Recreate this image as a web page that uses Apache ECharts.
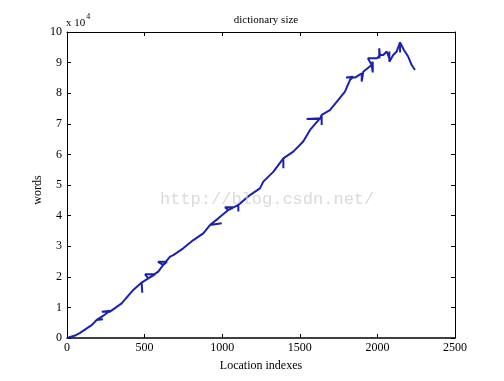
<!DOCTYPE html>
<html>
<head>
<meta charset="utf-8">
<script src="https://cdn.jsdelivr.net/npm/echarts@6/dist/echarts.min.js"></script>
<style>html,body{margin:0;padding:0;background:#fff}#c{width:504px;height:381px}</style>
</head>
<body>
<div id="c"></div>
<script>
// Location index values (x) and dictionary size in units of 10^4 words (y)
const locIdx = [0,52,84,159,191,180,232,191,232,277,224,277,277,352,427,481,485,481,524,503,567,524,588,620,586,644,620,664,685,749,814,878,921,932,997,921,975,1039,1018,1070,1039,1104,1104,1104,1179,1243,1265,1329,1394,1394,1394,1458,1522,1566,1630,1544,1630,1641,1641,1641,1694,1748,1791,1823,1845,1798,1856,1845,1899,1899,1909,1963,1970,1970,1963,1939,1997,2016,2012,2012,2016,2038,2060,2077,2077,2077,2102,2124,2146,2146,2146,2171,2199,2221,2242];
const words = [0,0.08,0.17,0.42,0.59,0.61,0.61,0.59,0.72,0.89,0.86,0.86,0.89,1.13,1.57,1.81,1.48,1.81,1.95,2.08,2.08,1.95,2.17,2.39,2.49,2.49,2.39,2.66,2.71,2.93,3.20,3.42,3.69,3.75,3.75,3.69,3.91,4.18,4.27,4.27,4.18,4.35,4.13,4.35,4.67,4.89,5.11,5.43,5.87,5.55,5.87,6.09,6.42,6.80,7.18,7.16,7.16,7.29,6.96,7.29,7.45,7.78,8.05,8.43,8.54,8.51,8.51,8.54,8.65,8.38,8.70,8.92,9.03,8.68,8.92,9.14,9.14,9.25,9.47,9.14,9.25,9.25,9.36,9.14,9.36,9.03,9.25,9.36,9.66,9.33,9.66,9.41,9.19,8.92,8.76];
const xTicks = [0,500,1000,1500,2000,2500];
const yTicks = [0,1,2,3,4,5,6,7,8,9,10];
const titleText = 'dictionary size';
const xName = 'Location indexes';
const yName = 'words';

const serif = '"Liberation Serif","DejaVu Serif",serif';
const data = locIdx.map((x,i)=>[x, words[i]]);
const chart = echarts.init(document.getElementById('c'), null, {renderer:'canvas'});
function axisCommon(w){
  return {
    axisLine:{show:true,onZero:false,lineStyle:{color:'#000',width:w||1}},
    axisTick:{show:true,inside:true,length:4,lineStyle:{color:'#000'}},
    splitLine:{show:false}
  };
}
chart.setOption({
  animation:false,
  backgroundColor:'#fff',
  grid:{left:67,right:49,top:32,bottom:43,containLabel:false},
  title:{text:titleText,left:261,top:10,textAlign:'center',
    textStyle:{fontFamily:serif,fontSize:11,fontWeight:'normal',color:'#000'}},
  xAxis:[
    Object.assign({type:'value',position:'bottom',min:xTicks[0],max:xTicks[xTicks.length-1],interval:500,
      axisLabel:{fontFamily:serif,fontSize:12,color:'#000',margin:4,formatter:v=>String(v)},
      name:xName,nameLocation:'middle',nameGap:22,
      nameTextStyle:{fontFamily:serif,fontSize:12,color:'#000'}},axisCommon(1.5)),
    Object.assign({type:'value',position:'top',min:xTicks[0],max:xTicks[xTicks.length-1],interval:500,
      axisLabel:{show:false}},axisCommon(1))
  ],
  yAxis:[
    Object.assign({type:'value',position:'left',min:yTicks[0],max:yTicks[yTicks.length-1],interval:1,
      axisLabel:{fontFamily:serif,fontSize:12,color:'#000',margin:5,formatter:v=>String(v)}},axisCommon(1)),
    Object.assign({type:'value',position:'right',min:yTicks[0],max:yTicks[yTicks.length-1],interval:1,
      axisLabel:{show:false}},axisCommon(1))
  ],
  graphic:[
    {type:'text',x:38,y:190,rotation:Math.PI/2,style:{
      text:yName,fontFamily:serif,fontSize:12,fill:'#000',align:'center',verticalAlign:'middle'}},
    {type:'text',left:66,top:13,style:{
      text:'{a|x 10}{b|4}',
      rich:{a:{fontFamily:serif,fontSize:11,fill:'#000',verticalAlign:'bottom'},
            b:{fontFamily:serif,fontSize:8,fill:'#000',verticalAlign:'top',padding:[0,0,8,1]}}}},
    {type:'text',left:160,top:191,z:10,style:{
      text:'http://blog.csdn.net/',fontFamily:'"Liberation Mono","DejaVu Sans Mono",monospace',
      fontSize:17,fill:'rgba(205,205,205,0.75)'}}
  ],
  series:[{
    type:'line',data:data,xAxisIndex:0,yAxisIndex:0,
    showSymbol:false,symbol:'none',
    lineStyle:{color:'#1a22b0',width:2},
    itemStyle:{color:'#1a22b0'}
  }]
});
</script>
</body>
</html>
